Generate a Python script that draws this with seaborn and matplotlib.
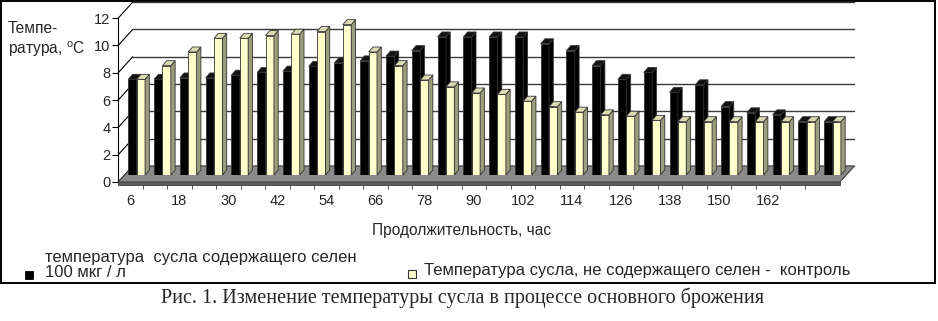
import numpy as np
import pandas as pd
import matplotlib
matplotlib.use('Agg')
import matplotlib.pyplot as plt
import seaborn as sns
from matplotlib.patches import Polygon, Rectangle
from matplotlib.lines import Line2D

#---------------------------------------------------------
hours = [6, 12, 18, 24, 30, 36, 42, 48, 54, 60, 66, 72, 78, 84,
         90, 96, 102, 108, 114, 120, 126, 132, 138, 144, 150, 156, 162, 168]
t_selen = [7.0, 7.0, 7.1, 7.1, 7.3, 7.5, 7.6, 7.95, 8.2, 8.35, 8.7, 9.1, 10.1, 10.1,
           10.1, 10.1, 9.6, 9.1, 8.0, 7.0, 7.5, 6.05, 6.6, 5.0, 4.55, 4.4, 3.9, 3.9]
t_control = [7.0, 8.0, 9.0, 10.0, 10.0, 10.2, 10.3, 10.5, 11.0, 9.0, 8.0, 6.95, 6.45, 6.0,
             5.9, 5.4, 5.0, 4.6, 4.4, 4.3, 4.0, 3.9, 3.9, 3.9, 3.9, 3.9, 3.9, 3.9]
lbl_selen = 'температура  сусла содержащего селен\n100 мкг / л'
lbl_control = 'Температура сусла, не содержащего селен -  контроль'
y_ticks = [0, 2, 4, 6, 8, 10, 12]
x_lbls = [str(h) if i % 2 == 0 else '' for i, h in enumerate(hours)]
ylbl = 'Темпе-\nратура, $^{\\mathregular{o}}$C'
xlbl = 'Продолжительность, час'
caption = 'Рис. 1. Изменение температуры сусла в процессе основного брожения'

cmap = ['#000000', '#ffffcc']
c_side = '#9c9c7e'
c_top = '#dcdcb4'

#--------------------------------------------------------
W, H = 938, 321
def fx(px): return px / W
def fy(py): return 1 - py / H

sns.set_style('white')
plt.rcParams['font.family'] = ['Liberation Sans', 'DejaVu Sans']

fig = plt.figure(figsize=(W / 100, H / 100), dpi=100)

# front plane: value axis + category ticks
ax_f = fig.add_axes([fx(118), fy(182), fx(805 - 118), 164 / H])
# bar plane
ax = fig.add_axes([fx(123.8), fy(175), fx(845.4 - 123.8), 164 / H])
ax_f.set_zorder(0)
ax.set_zorder(1)

df = pd.DataFrame({'hour': hours * 2,
                   'temp': t_selen + t_control,
                   'series': [lbl_selen] * len(hours) + [lbl_control] * len(hours)})
sns.barplot(data=df, x='hour', y='temp', hue='series', palette=cmap, width=0.65,
            saturation=1, edgecolor='#333333', linewidth=0.6, legend=False, ax=ax)
ax.set_xlim(-0.5, len(hours) - 0.5)
ax.set_ylim(0, 12)
ax.axis('off')

# front axis look
ax_f.set_xlim(-0.5, len(hours) - 0.5)
ax_f.set_ylim(0, 12)
ax_f.patch.set_visible(False)
for s in ['top', 'right', 'bottom']:
    ax_f.spines[s].set_visible(False)
ax_f.spines['left'].set_color('black')
ax_f.spines['left'].set_linewidth(0.8)
ax_f.set_yticks(y_ticks)
ax_f.set_yticklabels([str(v) for v in y_ticks], fontsize=10.5)
ax_f.tick_params(axis='y', left=True, length=4, width=0.8, pad=1.5, color='black')
ax_f.set_xticks(np.arange(len(hours)))
ax_f.set_xticklabels(x_lbls, fontsize=10.5)
ax_f.set_xticks(np.arange(len(hours)) + 0.5, minor=True)
ax_f.tick_params(axis='x', which='major', bottom=True, length=0, pad=9)
ax_f.tick_params(axis='x', which='minor', bottom=True, length=5, width=0.7, color='#555555')

# 3D offsets in pixels (right, up)
d_bar = np.array([4.3, 5.0])
d_back = np.array([9.0, 9.0])
d_front = np.array([-5.5, -7.0])
to_disp = ax.transData.transform
to_data = ax.transData.inverted().transform
x_lo, x_hi = -0.5, len(hours) - 0.5

def poly(pts, **kw):
    p = Polygon(to_data(np.array(pts)), closed=True, clip_on=False, **kw)
    ax.add_patch(p)

# back wall gridlines + side wall diagonals
for v in y_ticks:
    a = to_disp((x_lo, v))
    b = to_disp((x_hi, v))
    seg = to_data(np.array([a + d_back, b + d_back]))
    ax.add_line(Line2D(seg[:, 0], seg[:, 1], color='#3a3a3a', lw=1.0, zorder=0.2, clip_on=False))
    seg = to_data(np.array([a + d_front, a + d_back]))
    ax.add_line(Line2D(seg[:, 0], seg[:, 1], color='black', lw=0.8, zorder=0.2, clip_on=False))

# floor
fl = to_disp((x_lo, 0)); fr = to_disp((x_hi, 0))
poly([fl + d_front, fr + d_front, fr + d_back, fl + d_back],
     fc='#8a8a8a', ec='#404040', lw=0.8, zorder=0.5)
poly([fl + d_front, fr + d_front, fr + d_front + [0, -3], fl + d_front + [0, -3]],
     fc='#5e5e5e', ec='#404040', lw=0.6, zorder=0.5)

# bar side and top faces
for bar in ax.patches:
    if not isinstance(bar, Rectangle) or bar.get_height() <= 0:
        continue
    x0, w, h = bar.get_x(), bar.get_width(), bar.get_height()
    is_black = bar.get_facecolor()[0] < 0.5
    z = 2 if is_black else 3
    bar.set_zorder(z)
    p10 = to_disp((x0 + w, 0)); p11 = to_disp((x0 + w, h)); p01 = to_disp((x0, h))
    side = 'black' if is_black else c_side
    top = '#111111' if is_black else c_top
    poly([p10, p11, p11 + d_bar, p10 + d_bar], fc=side, ec='#333333', lw=0.6, zorder=z)
    poly([p01, p11, p11 + d_bar, p01 + d_bar], fc=top, ec='#333333', lw=0.6, zorder=z)

# texts
fig.text(fx(8), fy(40), ylbl, ha='left', va='center', fontsize=11.2, linespacing=1.25)
fig.text(fx(462), fy(231), xlbl, ha='center', va='center', fontsize=11.2)

# legend
fig.add_artist(Rectangle((fx(25), fy(279)), fx(8), 8 / H, fc=cmap[0], ec='black', lw=0.6,
                         transform=fig.transFigure))
fig.text(fx(45), fy(265), lbl_selen, ha='left', va='center', fontsize=12, linespacing=0.95)
fig.add_artist(Rectangle((fx(408), fy(278)), fx(8), 8 / H, fc=cmap[1], ec='#333333', lw=0.8,
                         transform=fig.transFigure))
fig.text(fx(424), fy(271), lbl_control, ha='left', va='center', fontsize=12)

# frame and caption
fig.add_artist(Rectangle((fx(1), fy(283)), fx(934), 282 / H, fill=False, ec='black', lw=1.4,
                         transform=fig.transFigure))
fig.text(fx(463), fy(298), caption, ha='center', va='center', fontsize=14.5,
         family=['Liberation Serif', 'DejaVu Serif'])

plt.savefig('out.png', dpi=100)
plt.close()
